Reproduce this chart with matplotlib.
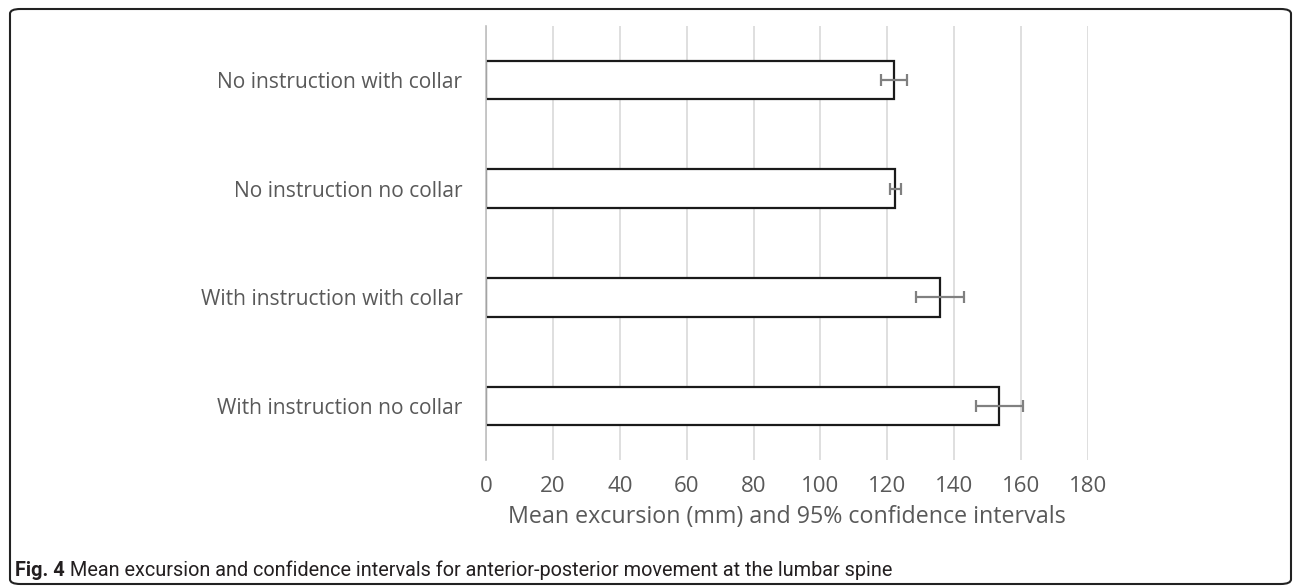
import matplotlib
matplotlib.use("Agg")
import matplotlib.pyplot as plt
from matplotlib.patches import FancyBboxPatch
from matplotlib.textpath import TextPath
from matplotlib.font_manager import FontProperties

categories = ["No instruction with collar", "No instruction no collar",
              "With instruction with collar", "With instruction no collar"]
means = [122.0, 122.4, 135.8, 153.5]
ci_low = [118.0, 120.9, 128.6, 146.5]
ci_high = [125.8, 124.0, 143.0, 160.5]
xticks = [0, 20, 40, 60, 80, 100, 120, 140, 160, 180]
xlabel = "Mean excursion (mm) and 95% confidence intervals"
caption_bold = "Fig. 4"
caption_rest = " Mean excursion and confidence intervals for anterior-posterior movement at the lumbar spine"

main_font = "Open Sans"
cap_font = "Roboto"
W, H = 1293, 586
DPI = 100


def fit_size(text, target_px, family, weight="normal"):
    """Font size (pt) so that text is target_px wide."""
    fp = FontProperties(family=family, weight=weight, size=10)
    w = TextPath((0, 0), text, prop=fp).get_extents().width
    return 10 * target_px / (w * DPI / 72.0)


lab_size = fit_size("No instruction with collar", 244, main_font)
tick_size = fit_size("100", 35, main_font)
xl_size = fit_size(xlabel, 555, main_font)

fig = plt.figure(figsize=(W / DPI, H / DPI), dpi=DPI)

frame = FancyBboxPatch((10 / W, (H - 584) / H), (1291 - 10) / W, (584 - 9) / H,
                       boxstyle="round,pad=0,rounding_size=0.008",
                       transform=fig.transFigure, fill=False,
                       edgecolor="#222222", linewidth=1.5, clip_on=False)
fig.patches.append(frame)

ax = fig.add_axes([486 / W, (H - 460.3) / H, 602 / W, 434.6 / H])
ypos = list(range(len(categories)))
xerr = [[m - l for m, l in zip(means, ci_low)], [h - m for m, h in zip(means, ci_high)]]
ax.barh(ypos, means, height=0.356, color="white", edgecolor="#1a1a1a",
        linewidth=1.6, zorder=2)
ax.errorbar(means, ypos, xerr=xerr, fmt="none", ecolor="#808080",
            elinewidth=1.6, capsize=4.3, capthick=1.6, zorder=3)
ax.set_xlim(0, 180)
ax.set_ylim(3.5, -0.5)
ax.set_xticks(xticks)
ax.set_yticks(ypos)
ax.set_yticklabels(categories)
ax.grid(axis="x", color="#d9d9d9", linewidth=1.2, zorder=0)
ax.set_axisbelow(True)
for s in ["top", "right", "bottom"]:
    ax.spines[s].set_visible(False)
ax.spines["left"].set_color("#bfbfbf")
ax.spines["left"].set_linewidth(1.2)
ax.spines["left"].set_zorder(4)
ax.tick_params(axis="both", length=0, colors="#595959")
ax.tick_params(axis="x", pad=11)
ax.tick_params(axis="y", pad=17)
for lab in ax.get_yticklabels():
    lab.set_fontfamily(main_font)
    lab.set_fontsize(lab_size)
for lab in ax.get_xticklabels():
    lab.set_fontfamily(main_font)
    lab.set_fontsize(tick_size)
ax.set_xlabel(xlabel, fontfamily=main_font, fontsize=xl_size, color="#595959", labelpad=6)

cap_size = fit_size(caption_bold + caption_rest, 877, cap_font)
t1 = fig.text(15 / W, (H - 570) / H, caption_bold, fontfamily=cap_font,
              fontweight="bold", fontsize=cap_size, color="#231f20", va="center")
fig.canvas.draw()
bb = t1.get_window_extent()
fig.text(bb.x1 / W, (H - 570) / H, caption_rest, fontfamily=cap_font,
         fontsize=cap_size, color="#231f20", va="center")

fig.savefig("out.png", dpi=DPI)
